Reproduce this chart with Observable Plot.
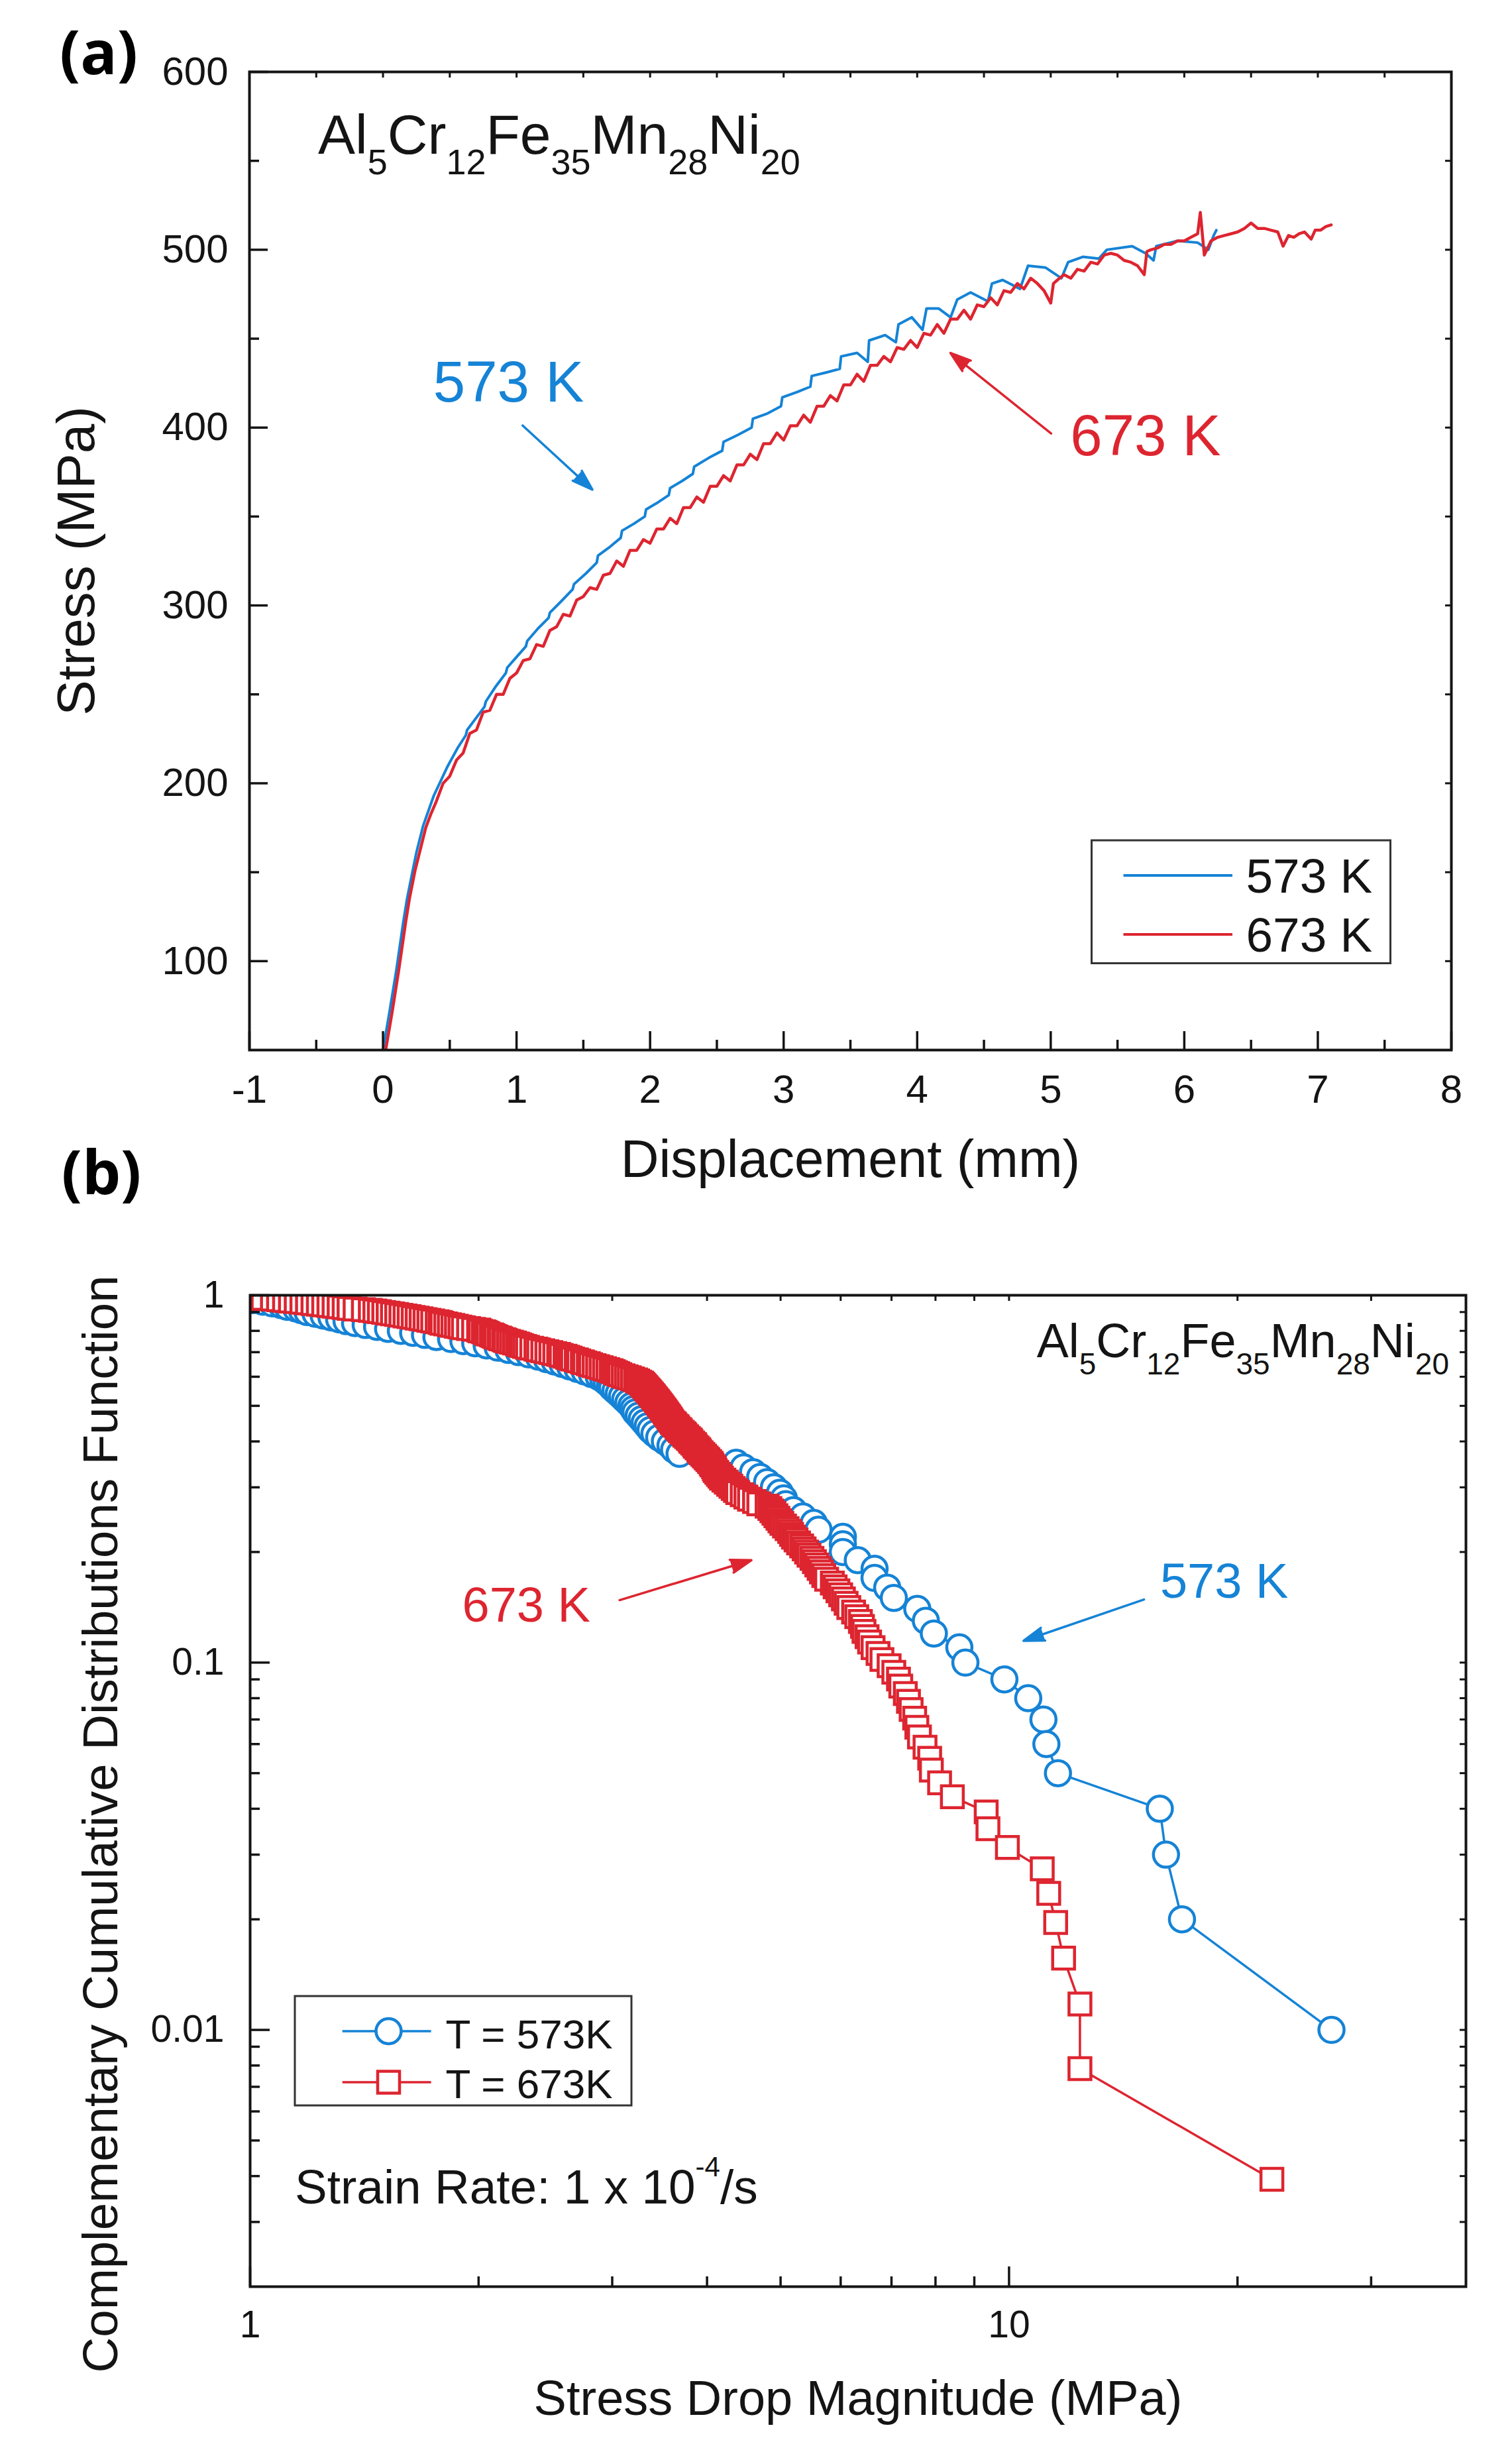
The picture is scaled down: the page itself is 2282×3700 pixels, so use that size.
<!DOCTYPE html>
<html><head><meta charset="utf-8">
<script src="https://cdn.jsdelivr.net/npm/d3@7"></script>
<script src="https://cdn.jsdelivr.net/npm/@observablehq/plot@0.6"></script>
<style>
html,body{margin:0;padding:0;background:#fff;}
#root{position:relative;width:2282px;height:3700px;}
#root svg{position:absolute;left:0;display:block;}
</style></head><body><div id="root"></div>
<script>
// ---------- DATA: panel (a) stress–displacement curves [displacement mm, stress MPa] ----------
const curve573K = [
[0.00,50],[0.05,72],[0.10,95],[0.15,121],[0.18,135],[0.22,150],[0.25,161],[0.30,176],[0.38,193],[0.48,209],
[0.56,220],[0.62,227],[0.63,230],[0.70,237],[0.76,243],[0.77,246],[0.84,254],[0.92,262],[0.93,265],[1.00,271],
[1.07,277],[1.08,280],[1.16,287],[1.24,293],[1.25,296],[1.33,302],[1.42,309],[1.43,312],[1.52,318],[1.60,324],
[1.61,328],[1.70,333],[1.78,338],[1.79,342],[1.88,346],[1.96,350],[1.97,354],[2.06,358],[2.14,362],[2.15,366],
[2.24,370],[2.32,374],[2.33,378],[2.44,383],[2.54,387],[2.55,392],[2.66,396],[2.76,400],[2.77,405],[2.88,408],
[2.98,412],[2.99,417],[3.10,420],[3.20,423],[3.21,429],[3.32,431],[3.42,433],[3.43,440],[3.55,442],[3.63,437],
[3.64,449],[3.76,452],[3.84,448],[3.86,458],[3.96,462],[4.04,455],[4.07,467],[4.16,467],[4.25,462],[4.30,472],
[4.40,476],[4.53,471],[4.56,481],[4.64,483],[4.77,478],[4.83,491],[4.96,490],[5.08,484],[5.13,493],[5.24,496],
[5.36,495],[5.42,500],[5.61,502],[5.71,498],[5.77,494],[5.79,502],[5.95,505],[6.10,504],[6.18,500],[6.22,508],[6.24,511]
];
const curve673K = [
[0.02,50],[0.07,72],[0.12,96],[0.17,122],[0.20,136],[0.24,151],[0.28,163],[0.32,175],[0.36,183],[0.40,190],
[0.45,200],[0.50,204],[0.55,213],[0.60,217],[0.65,228],[0.70,230],[0.75,240],[0.80,241],[0.85,250],[0.90,250],
[0.95,259],[1.00,262],[1.05,269],[1.10,270],[1.15,278],[1.20,277],[1.25,286],[1.30,288],[1.35,295],[1.40,294],
[1.45,303],[1.50,305],[1.55,310],[1.60,309],[1.65,317],[1.70,318],[1.75,325],[1.80,322],[1.85,331],[1.90,331],
[1.95,337],[2.00,335],[2.05,343],[2.10,343],[2.15,349],[2.20,346],[2.25,355],[2.30,355],[2.35,361],[2.40,358],
[2.45,367],[2.50,367],[2.55,373],[2.60,370],[2.65,379],[2.70,379],[2.75,385],[2.80,382],[2.85,391],[2.90,391],
[2.95,397],[3.00,393],[3.05,401],[3.10,401],[3.15,407],[3.20,403],[3.25,412],[3.30,412],[3.35,418],[3.40,415],
[3.45,424],[3.50,424],[3.55,430],[3.60,426],[3.65,435],[3.70,435],[3.75,440],[3.80,437],[3.85,445],[3.90,444],
[3.95,449],[4.00,445],[4.05,453],[4.10,452],[4.15,458],[4.20,453],[4.25,461],[4.30,461],[4.35,466],[4.40,461],
[4.45,469],[4.50,468],[4.55,473],[4.60,469],[4.65,477],[4.70,476],[4.75,481],[4.80,478],[4.85,484],[4.90,481],
[4.95,477],[5.00,470],[5.02,481],[5.05,483],[5.10,486],[5.15,484],[5.20,489],[5.25,488],[5.30,493],[5.35,492],
[5.40,497],[5.45,498],[5.50,497],[5.55,494],[5.60,493],[5.65,491],[5.70,486],[5.72,499],[5.75,500],[5.80,501],
[5.85,503],[5.90,503],[5.95,505],[6.00,505],[6.05,507],[6.10,509],[6.12,521],[6.15,497],[6.20,505],[6.25,507],
[6.30,508],[6.35,509],[6.40,510],[6.45,512],[6.50,515],[6.55,512],[6.60,512],[6.65,511],[6.70,510],[6.74,502],
[6.78,508],[6.82,507],[6.86,509],[6.90,510],[6.95,506],[6.98,511],[7.02,511],[7.06,513],[7.10,514]
];

// ---------- DATA: panel (b) stress-drop magnitudes (MPa), largest first, visible part (> 1 MPa) ----------
const events573K = 100;   // total number of stress drops
const drops573K = [
26.6,16.9,16.1,15.8,11.6,11.2,11.1,10.6,9.86,8.76,
8.6,7.96,7.77,7.57,7.05,6.91,6.65,6.65,6.32,6.04,
6.04,6.04,5.61,5.53,5.35,5.2,5.08,5.05,4.99,4.9,
4.8,4.7,4.6,4.47,4.37,4.0,3.68,3.62,3.58,3.52,
3.46,3.41,3.37,3.34,3.31,3.28,3.25,3.22,3.2,3.18,
3.15,3.12,3.09,3.06,3.03,3.0,2.98,2.95,2.92,2.88,
2.82,2.76,2.7,2.64,2.58,2.52,2.46,2.4,2.33,2.26,
2.19,2.12,2.05,1.98,1.91,1.84,1.76,1.7,1.64,1.58,
1.52,1.47,1.42,1.375,1.34,1.31,1.28,1.25,1.22,1.19,
1.17,1.15,1.12,1.1,1.07,1.04,1.01
];
const events673K = 255;
const drops673K = [
22.2,12.4,12.4,11.8,11.52,11.28,11.06,9.95,9.38,9.33,
8.42,8.1,7.9,7.86,7.75,7.62,7.56,7.51,7.43,7.37,
7.3,7.2,7.15,7.05,6.95,6.8,6.72,6.62,6.55,6.5,
6.44,6.41,6.37,6.3,6.24,6.15,6.1,6.05,6.0,5.95,
5.9,5.85,5.75,5.7,5.66,5.62,5.58,5.54,5.5,5.45,
5.41,5.37,5.33,5.28,5.24,5.2,5.17,5.14,5.1,5.06,
5.02,4.99,4.96,4.93,4.9,4.87,4.84,4.8,4.68,4.62,
4.55,4.5,4.45,4.39,4.36,4.33,4.3,4.27,4.24,4.21,
4.18,4.16,4.14,4.12,4.1,4.09,4.08,4.06,4.05,4.03,
4.01,3.99,3.97,3.95,3.93,3.91,3.9,3.88,3.86,3.85,
3.83,3.81,3.8,3.78,3.76,3.74,3.73,3.71,3.69,3.68,
3.66,3.65,3.63,3.62,3.6,3.59,3.58,3.57,3.56,3.55,
3.54,3.53,3.52,3.51,3.5,3.49,3.48,3.47,3.46,3.45,
3.44,3.43,3.42,3.41,3.4,3.39,3.38,3.37,3.36,3.35,
3.34,3.33,3.32,3.31,3.3,3.29,3.28,3.26,3.24,3.22,
3.19,3.16,3.13,3.1,3.07,3.05,3.03,3.01,2.99,2.96,
2.93,2.9,2.87,2.84,2.81,2.79,2.76,2.74,2.71,2.69,
2.66,2.64,2.62,2.6,2.57,2.55,2.52,2.49,2.46,2.43,
2.4,2.38,2.35,2.32,2.3,2.28,2.265,2.25,2.23,2.21,
2.19,2.17,2.16,2.14,2.13,2.11,2.1,2.09,2.08,2.06,
2.05,2.04,2.03,2.01,2.0,1.97,1.94,1.91,1.89,1.87,
1.85,1.83,1.81,1.79,1.78,1.764,1.74,1.72,1.7,1.68,
1.66,1.64,1.62,1.6,1.58,1.56,1.54,1.52,1.5,1.48,
1.46,1.44,1.41,1.375,1.35,1.33,1.31,1.29,1.27,1.25,
1.23,1.21,1.19,1.17,1.15,1.13,1.11,1.09,1.07,1.04,
1.01
];

// ---------- tick values ----------
const dispTicks = [-1,0,1,2,3,4,5,6,7,8];
const dispMinor = [-0.5,0.5,1.5,2.5,3.5,4.5,5.5,6.5,7.5];
const stressTicks = [100,200,300,400,500,600];
const stressMinor = [150,250,350,450,550];
const dropTicks = [1,10];
const dropMinor = [2,3,4,5,6,7,8,9,20,30];
const ccdfTicks = [0.01,0.1,1];
const ccdfMinor = [0.003,0.004,0.005,0.006,0.007,0.008,0.009,0.02,0.03,0.04,0.05,0.06,0.07,0.08,0.09,0.2,0.3,0.4,0.5,0.6,0.7,0.8,0.9];

// ---------- styling / layout ----------
const FONT = "'Liberation Sans', Arial, Helvetica, sans-serif";
const BOLD = "'Open Sans', 'Liberation Sans', sans-serif";
const BLUE = "#1583d6", RED = "#dd2530", INK = "#141414";

// empirical complementary CDF from the magnitudes (drawn smallest first, as in the source)
function ccdf(drops, n) {
  return drops.map((v, i) => ({drop: v, p: (i + 1) / n})).reverse();
}
const ccdf573 = ccdf(drops573K, events573K);
const ccdf673 = ccdf(drops673K, events673K);

const root = document.getElementById("root");

// ================= Panel (a) =================
const A = {w: 2282, h: 1850, mt: 108, mb: 266, ml: 376, mr: 92};
const fhA = A.h - A.mt - A.mb, fwA = A.w - A.ml - A.mr;
const arrowsA = [
  {x1: 1.045, y1: 401.2, x2: 1.568, y2: 365.1, c: BLUE},
  {x1: 5.003, y1: 396.7, x2: 4.249, y2: 442.0, c: RED}
];
const labelsA = [
  {x: 0.94, y: 414.8, t: "573 K", c: BLUE},
  {x: 5.71, y: 384.6, t: "673 K", c: RED}
];
const chartA = Plot.plot({
  width: A.w, height: A.h, marginTop: A.mt, marginBottom: A.mb, marginLeft: A.ml, marginRight: A.mr,
  style: {fontFamily: FONT, overflow: "visible", background: "transparent", color: INK},
  x: {domain: [-1, 8], axis: null},
  y: {domain: [50, 600], axis: null},
  marks: [
    Plot.line(curve573K, {x: d => d[0], y: d => d[1], stroke: BLUE, strokeWidth: 4, clip: true}),
    Plot.line(curve673K, {x: d => d[0], y: d => d[1], stroke: RED, strokeWidth: 4.5, clip: true}),
    Plot.tickX(dispTicks, {x: d => d, insetTop: fhA - 28, stroke: INK, strokeWidth: 3.5}),
    Plot.tickX(dispMinor, {x: d => d, insetTop: fhA - 15, stroke: INK, strokeWidth: 3.5}),
    Plot.tickX(dispTicks.concat(dispMinor), {x: d => d, insetBottom: fhA - 9, stroke: INK, strokeWidth: 3}),
    Plot.tickY(stressTicks, {y: d => d, insetRight: fwA - 28, stroke: INK, strokeWidth: 3.5}),
    Plot.tickY(stressMinor, {y: d => d, insetRight: fwA - 15, stroke: INK, strokeWidth: 3.5}),
    Plot.tickY(stressTicks.concat(stressMinor), {y: d => d, insetLeft: fwA - 9, stroke: INK, strokeWidth: 3}),
    Plot.frame({stroke: INK, strokeWidth: 4}),
    Plot.text(dispTicks, {x: d => d, frameAnchor: "bottom", dy: 79, lineAnchor: "bottom", textAnchor: "middle", text: d => String(d), fontSize: 60, fill: INK}),
    Plot.text(stressTicks, {y: d => d, frameAnchor: "left", dx: -32, textAnchor: "end", lineAnchor: "middle", text: d => String(d), fontSize: 60, fill: INK}),
    Plot.text(["Displacement (mm)"], {frameAnchor: "bottom", dy: 191, lineAnchor: "bottom", textAnchor: "middle", text: d => d, fontSize: 80, fill: INK}),
    Plot.text(["Stress (MPa)"], {frameAnchor: "left", dx: -260, rotate: -90, textAnchor: "middle", lineAnchor: "middle", text: d => d, fontSize: 80, fill: INK}),
    Plot.text(labelsA, {x: "x", y: "y", text: "t", fill: "c", fontSize: 87, lineAnchor: "bottom", textAnchor: "middle"}),
    Plot.arrow(arrowsA, {x1: "x1", y1: "y1", x2: "x2", y2: "y2", stroke: "c", fill: "c", strokeWidth: 3.5, headLength: 14, headAngle: 36})
  ]
});
chartA.style.top = "0px";
root.appendChild(chartA);

function chem(sel, x, y, main, sub, shift, anchor) {
  const t = sel.append("text").attr("x", x).attr("y", y).attr("text-anchor", anchor)
    .attr("font-family", FONT).attr("fill", INK).attr("font-size", main);
  const parts = [["Al","5"],["Cr","12"],["Fe","35"],["Mn","28"],["Ni","20"]];
  parts.forEach(([el, n], i) => {
    t.append("tspan").attr("font-size", main).attr("dy", i === 0 ? 0 : -shift).text(el);
    t.append("tspan").attr("font-size", sub).attr("dy", shift).text(n);
  });
  return t;
}

const svgA = d3.select(chartA);
chem(svgA, A.ml + 104, A.mt + 124, 84, 54, 31, "start");
svgA.append("text").attr("x", 149).attr("y", 112).attr("text-anchor", "middle")
  .attr("font-family", BOLD).attr("font-weight", 700).attr("font-size", 92).attr("fill", "#000").text("(a)");
// legend (a)
{
  const g = svgA.append("g");
  const bx = A.ml + 1271.5, by = A.mt + 1160;
  g.append("rect").attr("x", bx).attr("y", by).attr("width", 451).attr("height", 185.5)
    .attr("fill", "white").attr("stroke", "#333").attr("stroke-width", 3);
  [[BLUE, "573 K", 53, 79], [RED, "673 K", 142, 168]].forEach(([c, t, ly, ty]) => {
    g.append("line").attr("x1", bx + 48).attr("x2", bx + 212.5).attr("y1", by + ly).attr("y2", by + ly)
      .attr("stroke", c).attr("stroke-width", 4);
    g.append("text").attr("x", bx + 233).attr("y", by + ty).attr("text-anchor", "start").attr("font-family", FONT)
      .attr("font-size", 73).attr("fill", INK).text(t);
  });
}

// ================= Panel (b) =================
const B = {w: 2282, h: 1850, mt: 104, mb: 250, ml: 377, mr: 70};
const fhB = B.h - B.mt - B.mb, fwB = B.w - B.ml - B.mr;
const arrowsB = [
  {x1: 3.068, y1: 0.1479, x2: 4.576, y2: 0.19, c: RED},
  {x1: 15.06, y1: 0.1485, x2: 10.45, y2: 0.1146, c: BLUE}
];
const labelsB = [
  {x: 2.311, y: 0.1295, t: "673 K", c: RED},
  {x: 19.21, y: 0.150, t: "573 K", c: BLUE}
];
const chartB = Plot.plot({
  width: B.w, height: B.h, marginTop: B.mt, marginBottom: B.mb, marginLeft: B.ml, marginRight: B.mr,
  style: {fontFamily: FONT, overflow: "visible", background: "transparent", color: INK},
  x: {type: "log", domain: [1, 40], axis: null},
  y: {type: "log", domain: [0.002, 1], axis: null},
  marks: [
    Plot.line(ccdf573, {x: "drop", y: "p", stroke: BLUE, strokeWidth: 3.5, clip: true}),
    Plot.dot(ccdf573, {x: "drop", y: "p", r: 19, symbol: "circle", stroke: BLUE, strokeWidth: 4.5, fill: "white", clip: true}),
    Plot.line(ccdf673, {x: "drop", y: "p", stroke: RED, strokeWidth: 3.5, clip: true}),
    Plot.dot(ccdf673, {x: "drop", y: "p", r: 18.6, symbol: "square", stroke: RED, strokeWidth: 4.5, fill: "white", clip: true}),
    Plot.tickX(dropTicks, {x: d => d, insetTop: fhB - 30, stroke: INK, strokeWidth: 3.5}),
    Plot.tickX(dropMinor, {x: d => d, insetTop: fhB - 15, stroke: INK, strokeWidth: 3.5}),
    Plot.tickX(dropTicks.concat(dropMinor), {x: d => d, insetBottom: fhB - 9, stroke: INK, strokeWidth: 3}),
    Plot.tickY(ccdfTicks, {y: d => d, insetRight: fwB - 30, stroke: INK, strokeWidth: 3.5}),
    Plot.tickY(ccdfMinor, {y: d => d, insetRight: fwB - 15, stroke: INK, strokeWidth: 3.5}),
    Plot.tickY(ccdfTicks.concat(ccdfMinor), {y: d => d, insetLeft: fwB - 9, stroke: INK, strokeWidth: 3}),
    Plot.frame({stroke: INK, strokeWidth: 4}),
    Plot.text(dropTicks, {x: d => d, frameAnchor: "bottom", dy: 76, lineAnchor: "bottom", textAnchor: "middle", text: d => String(d), fontSize: 57, fill: INK}),
    Plot.text(ccdfTicks, {y: d => d, frameAnchor: "left", dx: -39, textAnchor: "end", lineAnchor: "middle", text: d => String(d), fontSize: 57, fill: INK}),
    Plot.text(["Stress Drop Magnitude (MPa)"], {frameAnchor: "bottom", dy: 193, lineAnchor: "bottom", textAnchor: "middle", text: d => d, fontSize: 74, fill: INK}),
    Plot.text(["Complementary Cumulative Distributions Function"], {frameAnchor: "left", dx: -224, dy: 50, rotate: -90, textAnchor: "middle", lineAnchor: "middle", text: d => d, fontSize: 74.5, fill: INK}),
    Plot.text(labelsB, {x: "x", y: "y", text: "t", fill: "c", fontSize: 74, lineAnchor: "bottom", textAnchor: "middle"}),
    Plot.arrow(arrowsB, {x1: "x1", y1: "y1", x2: "x2", y2: "y2", stroke: "c", fill: "c", strokeWidth: 3.5, headLength: 14, headAngle: 36})
  ]
});
chartB.style.top = "1850px";
root.appendChild(chartB);

const svgB = d3.select(chartB);
chem(svgB, B.ml + fwB - 25, B.mt + 94, 72, 46, 26, "end");
svgB.append("text").attr("x", 153).attr("y", -48).attr("text-anchor", "middle")
  .attr("font-family", BOLD).attr("font-weight", 700).attr("font-size", 92).attr("fill", "#000").text("(b)");
// strain-rate note
{
  const t = svgB.append("text").attr("x", B.ml + 68).attr("y", B.mt + 1371).attr("text-anchor", "start")
    .attr("font-family", FONT).attr("font-size", 73).attr("fill", INK);
  t.append("tspan").text("Strain Rate: 1 x 10");
  t.append("tspan").attr("font-size", 42).attr("dy", -41).text("-4");
  t.append("tspan").attr("dy", 41).text("/s");
}
// legend (b)
{
  const g = svgB.append("g");
  const bx = B.ml + 68, by = B.mt + 1058;
  g.append("rect").attr("x", bx).attr("y", by).attr("width", 508).attr("height", 165)
    .attr("fill", "white").attr("stroke", "#333").attr("stroke-width", 3);
  const items = [[BLUE, "T = 573K", 53, 79, "circle"], [RED, "T = 673K", 130, 153.5, "square"]];
  items.forEach(([c, t, ly, ty, sym]) => {
    g.append("line").attr("x1", bx + 71.7).attr("x2", bx + 205.6).attr("y1", by + ly).attr("y2", by + ly)
      .attr("stroke", c).attr("stroke-width", 3.5);
    const mx = bx + 141.5, my = by + ly;
    if (sym === "circle") {
      g.append("circle").attr("cx", mx).attr("cy", my).attr("r", 19).attr("fill", "white").attr("stroke", c).attr("stroke-width", 4.5);
    } else {
      g.append("rect").attr("x", mx - 16.5).attr("y", my - 16.5).attr("width", 33).attr("height", 33)
        .attr("fill", "white").attr("stroke", c).attr("stroke-width", 4.5);
    }
    g.append("text").attr("x", bx + 227.4).attr("y", by + ty).attr("text-anchor", "start").attr("font-family", FONT)
      .attr("font-size", 62).attr("fill", INK).text(t);
  });
}
</script></body></html>
